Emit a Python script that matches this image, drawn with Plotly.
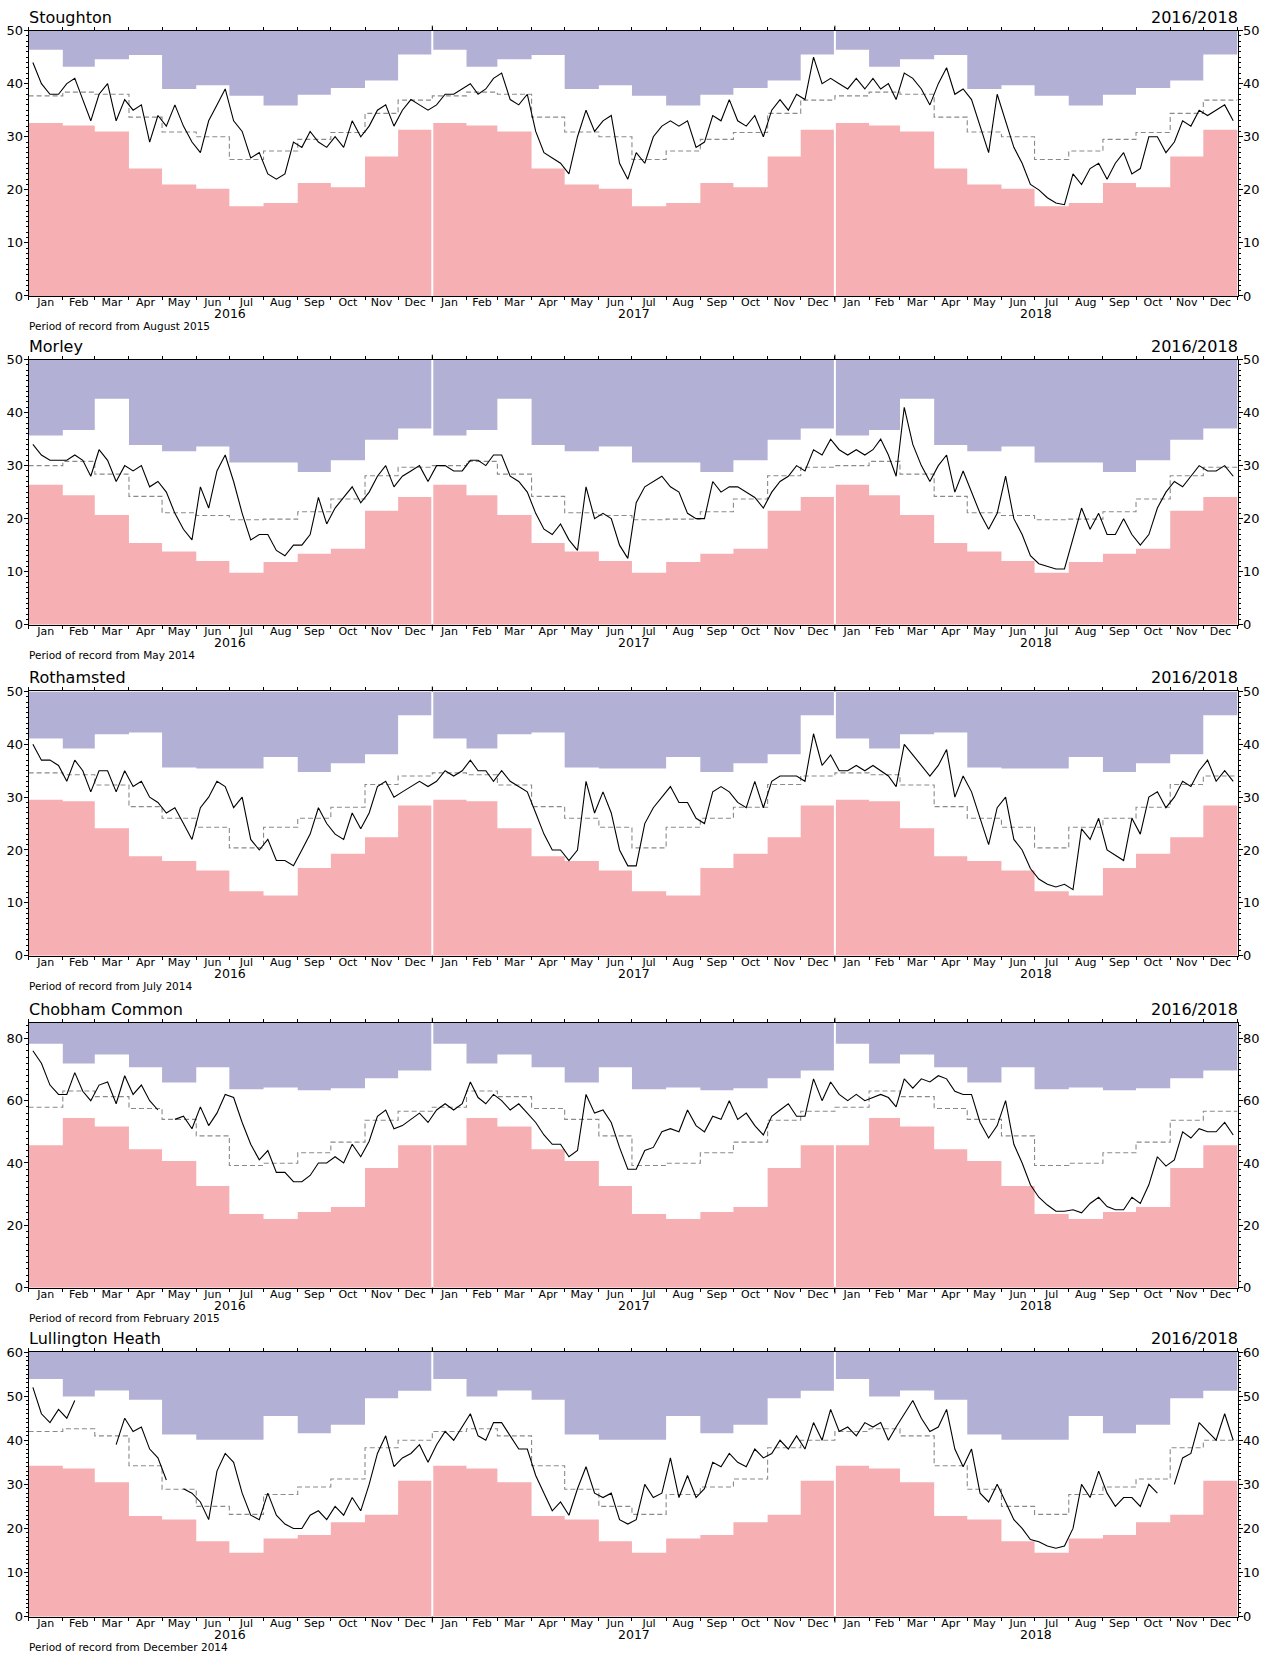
import pandas as pd
import plotly.graph_objects as go

nan = float("nan")

# ---------------- data ----------------
SITES = ["Stoughton", "Morley", "Rothamsted", "Chobham Common", "Lullington Heath"]
RECORD_FROM = ["August 2015", "May 2014", "July 2014", "February 2015", "December 2014"]
YEARS = [2016, 2017, 2018]
PERIOD_LABEL = "2016/2018"

# monthly climatology (Jan..Dec): max, min, mean
STOUGHTON_MAX = [46.4, 43.2, 44.6, 45.4, 39.0, 39.7, 37.7, 35.9, 37.9, 39.2, 40.6, 45.5]
STOUGHTON_MIN = [32.6, 32.1, 31.0, 24.0, 21.0, 20.2, 16.9, 17.5, 21.3, 20.5, 26.3, 31.3]
STOUGHTON_MEAN = [37.7, 38.4, 38.0, 33.7, 30.9, 30.0, 25.7, 27.3, 29.5, 30.8, 34.4, 36.9]

MORLEY_MAX = [35.7, 36.7, 42.6, 33.9, 32.7, 33.6, 30.6, 30.6, 28.8, 31.0, 34.9, 37.0]
MORLEY_MIN = [26.4, 24.4, 20.7, 15.4, 13.8, 12.0, 9.8, 11.8, 13.4, 14.3, 21.5, 24.1]
MORLEY_MEAN = [30.0, 30.8, 28.4, 24.2, 21.1, 20.6, 19.8, 19.9, 21.3, 23.7, 28.1, 29.7]

ROTHAMSTED_MAX = [41.1, 39.2, 41.9, 42.25, 35.6, 35.4, 35.4, 37.6, 34.75, 36.4, 38.1, 45.5]
ROTHAMSTED_MIN = [29.5, 29.2, 24.1, 18.8, 17.9, 16.1, 12.2, 11.4, 16.6, 19.3, 22.4, 28.4]
ROTHAMSTED_MEAN = [34.6, 34.25, 32.3, 28.2, 26.0, 24.3, 20.4, 24.3, 26.0, 28.1, 32.4, 34.0]

CHOBHAM_MAX = [78.3, 71.9, 74.8, 70.7, 65.8, 70.7, 63.7, 64.2, 63.3, 64.0, 67.2, 69.7]
CHOBHAM_MIN = [45.7, 54.4, 51.7, 44.4, 40.6, 32.6, 23.6, 22.0, 24.3, 25.9, 38.4, 45.7]
CHOBHAM_MEAN = [57.9, 63.1, 61.3, 57.5, 54.0, 48.7, 39.2, 39.9, 43.3, 46.7, 53.7, 56.6]

LULLINGTON_MAX = [53.9, 49.9, 51.3, 49.2, 41.3, 40.1, 40.1, 45.5, 41.6, 43.5, 49.5, 51.2]
LULLINGTON_MIN = [34.2, 33.6, 30.5, 22.8, 22.0, 17.1, 14.5, 17.7, 18.5, 21.4, 23.1, 30.8]
LULLINGTON_MEAN = [42.0, 42.6, 41.0, 34.2, 28.9, 25.0, 23.2, 27.7, 29.4, 31.2, 38.3, 40.0]

# observed series, four readings per month (Jan..Dec)
STOUGHTON_2016 = [44, 40, 38, 38, 40, 41, 37, 33, 38, 40, 33, 37, 35, 36, 29, 34,
                  32, 36, 32, 29, 27, 33, 36, 39, 33, 31, 26, 27, 23, 22, 23, 29,
                  28, 31, 29, 28, 30, 28, 33, 30, 32, 35, 36, 32, 35, 37, 36, 35]
STOUGHTON_2017 = [36, 38, 38, 39, 40, 38, 39, 41, 42, 37, 36, 38, 31, 27, 26, 25,
                  23, 30, 35, 31, 33, 34, 25, 22, 27, 25, 30, 32, 33, 32, 33, 28,
                  29, 34, 33, 37, 33, 32, 34, 30, 35, 37, 35, 38, 37, 45, 40, 41]
STOUGHTON_2018 = [40, 39, 41, 39, 41, 39, 40, 37, 42, 41, 39, 36, 40, 43, 38, 39,
                  37, 32, 27, 38, 33, 28, 25, 21, 20, 18.5, 17.5, 17.2, 23, 21, 24, 25,
                  22, 25, 27, 23, 24, 30, 30, 27, 29, 33, 32, 35, 34, 35, 36, 33]

MORLEY_2016 = [34, 32, 31, 31, 31, 32, 31, 28, 33, 31, 27, 30, 29, 30, 26, 27,
               25, 21, 18, 16, 26, 22, 29, 32, 27, 21, 16, 17, 17, 14, 13, 15,
               15, 17, 24, 19, 22, 24, 26, 23, 25, 28, 30, 26, 28, 29, 30, 27]
MORLEY_2017 = [30, 30, 29, 29, 31, 31, 30, 32, 32, 28, 27, 25, 21, 18, 17, 19,
               16, 14, 26, 20, 21, 20, 15, 12.5, 23, 26, 27, 28, 26, 25, 21, 20,
               20, 27, 25, 26, 26, 25, 24, 22, 25, 27, 28, 30, 29, 33, 32, 35]
MORLEY_2018 = [33, 32, 33, 32, 33, 35, 32, 28, 41, 34, 30, 27, 30, 32, 25, 29,
               25, 21, 18, 21, 28, 20, 17, 13, 11.5, 11, 10.5, 10.5, 16, 22, 18, 21,
               17, 17, 20, 17, 15, 17, 22, 25, 27, 26, 28, 30, 29, 29, 30, 28]

ROTHAMSTED_2016 = [40, 37, 37, 36, 33, 37, 35, 31, 35, 35, 31, 35, 32, 33, 30, 29,
                   27, 28, 25, 22, 28, 30, 33, 32, 28, 30, 22, 20, 22, 18, 18, 17,
                   20, 23, 28, 25, 23, 22, 27, 24, 27, 32, 33, 30, 31, 32, 33, 32]
ROTHAMSTED_2017 = [33, 35, 34, 35, 37, 35, 35, 33, 35, 33, 32, 31, 27, 23, 20, 20,
                   18, 20, 33, 27, 31, 27, 20, 17, 17, 25, 28, 30, 32, 29, 29, 26,
                   25, 31, 32, 31, 29, 28, 33, 28, 33, 34, 34, 34, 33, 42, 36, 38]
ROTHAMSTED_2018 = [35, 35, 36, 35, 36, 35, 34, 32, 40, 38, 36, 34, 36, 39, 30, 34,
                   31, 26, 21, 28, 30, 22, 20, 16.5, 14.5, 13.5, 13, 13.5, 12.5, 24, 22, 26,
                   20, 19, 18, 26, 23, 30, 31, 28, 30, 33, 32, 35, 37, 33, 35, 33]

CHOBHAM_2016 = [76, 72, 65, 62, 62, 69, 63, 60, 65, 66, 59, 68, 62, 65, 60, 57,
                nan, 54, 55, 51, 58, 52, 56, 62, 61, 53, 46, 41, 44, 37, 37, 34,
                34, 36, 40, 40, 42, 40, 46, 42, 47, 55, 57, 51, 52, 54, 56, 53]
CHOBHAM_2017 = [57, 59, 57, 59, 66, 61, 59, 62, 60, 57, 59, 56, 53, 49, 46, 46,
                42, 44, 62, 56, 57, 53, 45, 38, 38, 44, 45, 50, 51, 50, 57, 52,
                50, 55, 54, 60, 54, 56, 52, 49, 55, 57, 59, 55, 55, 67, 60, 66]
CHOBHAM_2018 = [62, 60, 62, 60, 61, 62, 61, 58, 67, 64, 67, 66, 68, 67, 63, 62,
                62, 53, 48, 52, 60, 46, 40, 33, 29, 26.5, 24.5, 24.5, 25, 24, 27, 29,
                26, 25, 25, 29, 27, 33, 42, 39, 41, 50, 48, 51, 50, 50, 53, 49]

LULLINGTON_2016 = [52, 46, 44, 47, 45, 49, nan, nan, nan, nan, 39, 45, 42, 43, 38, 36,
                   31, nan, 29, 28, 26, 22, 33, 37, 35, 28, 23, 22, 28, 23, 21, 20,
                   20, 23, 24, 22, 25, 23, 27, 24, 30, 37, 41, 34, 36, 37, 39, 35]
LULLINGTON_2017 = [39, 42, 40, 43, 46, 41, 40, 44, 44, 41, 38, 38, 32, 28, 24, 26,
                   23, 29, 34, 28, 27, 28, 22, 21, 22, 30, 27, 28, 36, 27, 32, 27,
                   29, 35, 34, 37, 35, 34, 38, 36, 37, 40, 38, 41, 38, 44, 40, 47]
LULLINGTON_2018 = [42, 43, 41, 44, 43, 44, 40, 43, 46, 49, 45, 42, 43, 47, 38, 34,
                   38, 28, 26, 30, 26, 22, 20, 17.5, 17, 16, 15.5, 16, 20, 30, 27, 33,
                   28, 25, 27, 27, 25, 30, 28, nan, 30, 36, 37, 44, 42, 40, 46, 40]

SITE_DATA = [
    (STOUGHTON_MAX, STOUGHTON_MIN, STOUGHTON_MEAN, [STOUGHTON_2016, STOUGHTON_2017, STOUGHTON_2018]),
    (MORLEY_MAX, MORLEY_MIN, MORLEY_MEAN, [MORLEY_2016, MORLEY_2017, MORLEY_2018]),
    (ROTHAMSTED_MAX, ROTHAMSTED_MIN, ROTHAMSTED_MEAN, [ROTHAMSTED_2016, ROTHAMSTED_2017, ROTHAMSTED_2018]),
    (CHOBHAM_MAX, CHOBHAM_MIN, CHOBHAM_MEAN, [CHOBHAM_2016, CHOBHAM_2017, CHOBHAM_2018]),
    (LULLINGTON_MAX, LULLINGTON_MIN, LULLINGTON_MEAN, [LULLINGTON_2016, LULLINGTON_2017, LULLINGTON_2018]),
]

# ---------------- layout / style ----------------
W, H = 1271, 1662
FONT = "DejaVu Sans"
BLUE = "#b3b0d6"
PINK = "#f6b0b3"
Y_TOP = [50, 50, 50, 85, 60]
Y_DTICK = [10, 10, 10, 20, 10]
Y_MINOR = [1, 1, 1, 2, 1]
PANEL_PX = [(23.8, 291.6), (355.8, 623.3), (690.7, 957.3), (1025.0, 1292.3), (1357.3, 1624.3)]
X_DOM = [28.6 / W, 1237.5 / W]


def py(px):
    return 1 - px / H


month_starts = pd.date_range(f"{YEARS[0]}-01-01", f"{YEARS[-1] + 1}-01-01", freq="MS")
x_start = month_starts[0]
x_end = month_starts[-1]


def step_values(monthly):
    vals = list(monthly) * len(YEARS)
    return vals + [vals[-1]]


def sample_dates():
    out = []
    for y in YEARS:
        for m in range(1, 13):
            s = pd.Timestamp(year=y, month=m, day=1)
            n = s.days_in_month
            for k in range(4):
                out.append(s + pd.Timedelta(hours=24 * (k + 0.5) * n / 4))
    return out


obs_x = sample_dates()

fig = go.Figure()
annotations = []
shapes = []
layout = {}

for i, (name, rec, (mx, mn, mean, obs)) in enumerate(zip(SITES, RECORD_FROM, SITE_DATA)):
    k = i + 1
    xa = "x" if k == 1 else f"x{k}"
    ya = "y" if k == 1 else f"y{k}"
    yr = f"y{k + 5}"
    top = Y_TOP[i]
    t_px, b_px = PANEL_PX[i]
    ydom = [py(b_px), py(t_px)]

    # blue band (max -> top)
    fig.add_trace(go.Scatter(x=month_starts, y=[top] * len(month_starts), mode="lines",
                             line=dict(width=0, shape="hv"), xaxis=xa, yaxis=ya,
                             hoverinfo="skip", showlegend=False))
    fig.add_trace(go.Scatter(x=month_starts, y=step_values(mx), mode="lines",
                             line=dict(width=0, shape="hv"), fill="tonexty", fillcolor=BLUE,
                             xaxis=xa, yaxis=ya, hoverinfo="skip", showlegend=False))
    # pink band (0 -> min)
    fig.add_trace(go.Scatter(x=month_starts, y=step_values(mn), mode="lines",
                             line=dict(width=0, shape="hv"), fill="tozeroy", fillcolor=PINK,
                             xaxis=xa, yaxis=ya, hoverinfo="skip", showlegend=False))
    # white year separators
    for y in YEARS[1:]:
        d = pd.Timestamp(year=y, month=1, day=1)
        fig.add_trace(go.Scatter(x=[d, d], y=[0, top], mode="lines",
                                 line=dict(color="white", width=2), xaxis=xa, yaxis=ya,
                                 hoverinfo="skip", showlegend=False))
    # mean (dashed)
    fig.add_trace(go.Scatter(x=month_starts, y=step_values(mean), mode="lines",
                             line=dict(color="#8a8a8a", width=1.1, dash="5px,3px", shape="hv"),
                             xaxis=xa, yaxis=ya, hoverinfo="skip", showlegend=False))
    # observed
    obs_y = [v for yv in obs for v in yv]
    fig.add_trace(go.Scatter(x=obs_x, y=obs_y, mode="lines",
                             line=dict(color="black", width=1.1), connectgaps=False,
                             xaxis=xa, yaxis=ya, hoverinfo="skip", showlegend=False))
    # dummy for right axis
    fig.add_trace(go.Scatter(x=[None], y=[None], xaxis=xa, yaxis=yr, mode="lines",
                             hoverinfo="skip", showlegend=False))

    xname = "xaxis" if k == 1 else f"xaxis{k}"
    yname = "yaxis" if k == 1 else f"yaxis{k}"
    layout[xname] = dict(
        domain=X_DOM, anchor=ya, type="date", range=[x_start, x_end],
        tick0=x_start, dtick="M1", tickformat="%b", ticklabelmode="period",
        ticks="outside", ticklen=3, tickwidth=1, tickcolor="black",
        showline=True, linecolor="black", linewidth=1, mirror="ticks",
        showgrid=False, zeroline=False, ticklabelstandoff=-7,
        tickfont=dict(family=FONT, size=11, color="black"),
    )
    ycommon = dict(
        range=[0, top], dtick=Y_DTICK[i], tick0=0, ticks="outside", ticklen=4,
        tickwidth=1, tickcolor="black", showline=True, linecolor="black", linewidth=1,
        showgrid=False, zeroline=False, ticklabelstandoff=-2,
        tickfont=dict(family=FONT, size=13, color="black"),
        minor=dict(dtick=Y_MINOR[i], tick0=0, ticks="outside", ticklen=2,
                   tickcolor="black", showgrid=False),
    )
    layout[yname] = dict(domain=ydom, anchor=xa, side="left", **ycommon)
    layout[f"yaxis{k + 5}"] = dict(domain=ydom, anchor=xa, overlaying=ya, side="right",
                                    **ycommon)

    # year ticks (longer) at year boundaries, bottom and top
    for y in YEARS[1:]:
        d = pd.Timestamp(year=y, month=1, day=1)
        shapes.append(dict(type="line", xref=xa, yref="paper", x0=d, x1=d,
                           y0=ydom[0], y1=ydom[0] - 6 / H, line=dict(color="black", width=1)))
        shapes.append(dict(type="line", xref=xa, yref="paper", x0=d, x1=d,
                           y0=ydom[1], y1=ydom[1] + 5 / H, line=dict(color="black", width=1)))

    # texts
    annotations.append(dict(text=name, x=X_DOM[0], y=ydom[1], xref="paper", yref="paper",
                            xanchor="left", yanchor="bottom", showarrow=False, xshift=-2,
                            yshift=2, font=dict(family=FONT, size=16, color="black")))
    annotations.append(dict(text=PERIOD_LABEL, x=X_DOM[1], y=ydom[1], xref="paper", yref="paper",
                            xanchor="right", yanchor="bottom", showarrow=False, xshift=2,
                            yshift=2, font=dict(family=FONT, size=16, color="black")))
    for y in YEARS:
        mid = pd.Timestamp(year=y, month=1, day=1) + (pd.Timestamp(year=y + 1, month=1, day=1)
                                                       - pd.Timestamp(year=y, month=1, day=1)) / 2
        annotations.append(dict(text=str(y), x=mid, y=ydom[0], xref=xa, yref="paper",
                                xanchor="center", yanchor="middle", yshift=-18, showarrow=False,
                                font=dict(family=FONT, size=12.5, color="black")))
    annotations.append(dict(text=f"Period of record from {rec}", x=X_DOM[0], y=ydom[0],
                            xref="paper", yref="paper", xanchor="left", yanchor="middle",
                            yshift=-30.5, xshift=-2, showarrow=False,
                            font=dict(family=FONT, size=10.5, color="black")))

fig.update_layout(
    width=W, height=H, margin=dict(l=0, r=0, t=0, b=0),
    paper_bgcolor="white", plot_bgcolor="white", showlegend=False,
    font=dict(family=FONT, color="black"),
    annotations=annotations, shapes=shapes, **layout,
)

fig.write_html("out.html", config={"displayModeBar": False},
               post_script="document.body.style.margin='0px';"
                           "document.body.style.overflow='hidden';")
